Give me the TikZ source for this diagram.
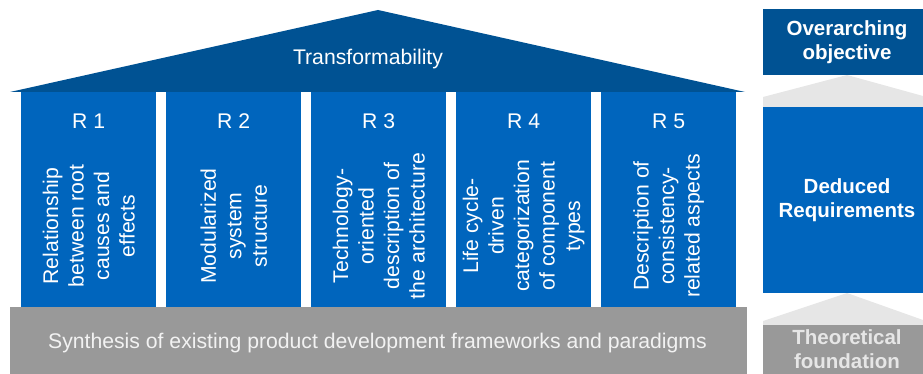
\documentclass[tikz,border=0pt]{standalone}
\usepackage{fontspec}
\setmainfont{Liberation Sans}
\definecolor{roofblue}{HTML}{005293}
\definecolor{pillarblue}{HTML}{0065BD}
\definecolor{basegray}{HTML}{999999}
\definecolor{chevgray}{HTML}{E6E6E6}
\definecolor{textlight}{HTML}{F2F2F2}
\tikzset{
  txt/.style={font=\fontsize{21.2}{25.5}\selectfont, text=white, inner sep=0pt, align=center},
  boldtxt/.style={font=\bfseries\fontsize{20.5}{24}\selectfont, text=white, inner sep=0pt, align=center},
  pillar/.style={fill=pillarblue, draw=none, rectangle, anchor=south west, minimum width=135pt, minimum height=215pt, inner sep=0pt},
  vtxt/.style={txt, rotate=90},
}
\begin{document}
\begin{tikzpicture}[x=1pt,y=1pt]
\useasboundingbox (0,0) rectangle (923,374);
% roof
\fill[roofblue] (10,282) -- (378,364) -- (745,282) -- cycle;
\node[txt] (roof) at (368,315) {Transformability};
% pillars
\foreach \i/\x in {1/21,2/166,3/311,4/456,5/601}{
  \node[pillar] (p\i) at (\x,67) {};
  \node[txt, anchor=center] (r\i) at ([yshift=-30pt]p\i.north) {R \i};
}
\node[vtxt] (t1) at (p1.center |- 0,148) {Relationship\\between root\\causes and\\effects};
\node[vtxt] (t2) at (p2.center |- 0,148) {Modularized\\system\\structure};
\node[vtxt] (t3) at (p3.center |- 0,148) {Technology-\\oriented\\description of\\the architecture};
\node[vtxt] (t4) at (p4.center |- 0,148) {Life cycle-\\driven\\categorization\\of component\\types};
\node[vtxt] (t5) at (p5.center |- 0,148) {Description of\\consistency-\\related aspects};
% foundation slab
\fill[basegray] (10,0) rectangle (747,67);
\node[txt, text=textlight] (base) at (377.5,31) {Synthesis of existing product development frameworks and paradigms};
% side legend
\fill[chevgray] (763,267) -- (763,277) -- (847,299) -- (923,278) -- (923,267) -- cycle;
\fill[chevgray] (763,48) -- (763,53) -- (847,81) -- (923,54) -- (923,48) -- cycle;
\fill[roofblue] (763,299) rectangle (923,365);
\fill[pillarblue] (763,81) rectangle (923,267);
\fill[basegray] (763,0) rectangle (923,49);
\node[boldtxt] (obj) at (847,332) {Overarching\\objective};
\node[boldtxt] (req) at (847,174) {Deduced\\Requirements};
\node[boldtxt, text=chevgray] (fnd) at (847,24.5) {Theoretical\\foundation};
\end{tikzpicture}
\end{document}
